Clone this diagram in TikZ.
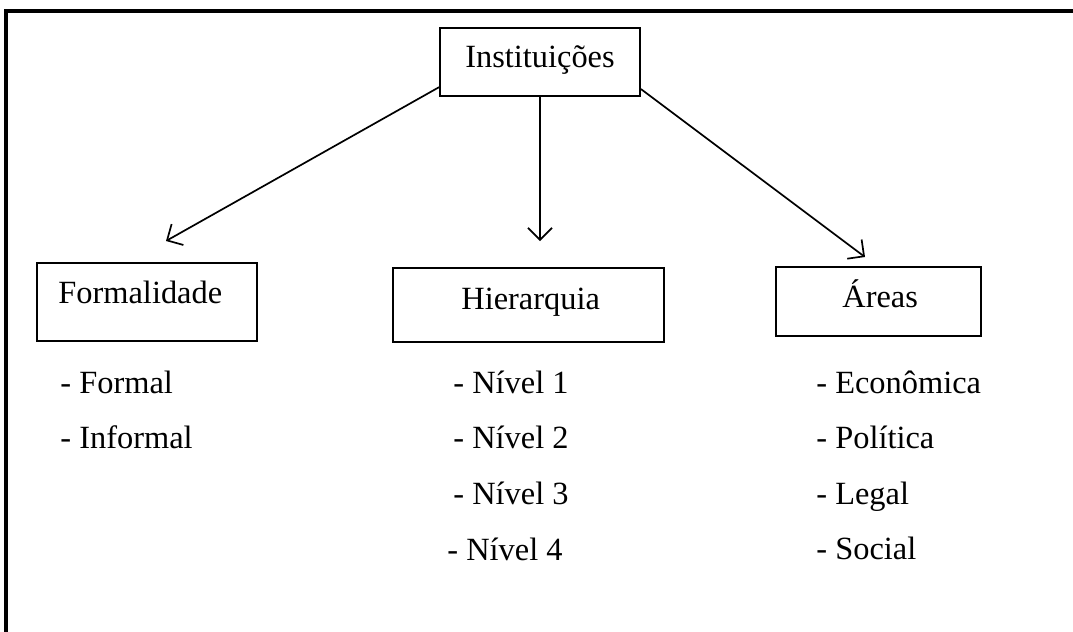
\documentclass[tikz,border=0pt]{standalone}
\usepackage{fontspec}
\setmainfont{Liberation Serif}
\usetikzlibrary{arrows.meta}
\tikzset{
    caixa/.style={draw,line width=.9pt,inner sep=0,rectangle},
    txt/.style={inner sep=0,font=\fontsize{16.2}{19}\selectfont},
    seta/.style={->,line width=.85pt},
}
\begin{document}
\begin{tikzpicture}[x=.5pt,y=-.5pt,>={Straight Barb[length=6pt,width=12pt,line width=.85pt]}]
    \useasboundingbox(0,0)rectangle(1073,632);
    \begin{scope}
        \clip(0,0)rectangle(1073,632);
        \draw[line width=2pt](5.5,10.5)rectangle(1090,660);
    \end{scope}
    \node[caixa,minimum width=100pt,minimum height=34pt](inst)at(540,62){};
    \node[caixa,minimum width=110pt,minimum height=39pt](form)at(147,302){};
    \node[caixa,minimum width=135.5pt,minimum height=37pt](hier)at(528.5,305){};
    \node[caixa,minimum width=102.5pt,minimum height=34.5pt](areas)at(878.5,301.5){};
    \node[txt,anchor=base](instT)at(540,67){Instituições};
    \node[txt,anchor=base west](formT)at(58,303){Formalidade};
    \node[txt,anchor=base west](hierT)at(461,309){Hierarquia};
    \node[txt,anchor=base west](areasT)at(842,307){Áreas};
    \coordinate(pF)at(166,241);
    \coordinate(pH)at(540,241);
    \coordinate(pA)at(865,257);
    \draw[seta](inst.194)--(pF);
    \draw[seta](inst.south)--(pH);
    \draw[seta](inst.345)--(pA);
    \node[txt,anchor=base west](f1)at(60,393){- Formal};
    \node[txt,anchor=base west](f2)at(60,448){- Informal};
    \foreach \i/\yy in {1/393,2/448,3/504}
        \node[txt,anchor=base west](n\i)at(453,\yy){- Nível \i};
    \node[txt,anchor=base west](n4)at(447,560){- Nível 4};
    \foreach \nome/\txt/\yy in {a1/Econômica/393,a2/Política/448,a3/Legal/504,a4/Social/559}
        \node[txt,anchor=base west](\nome)at(816,\yy){- \txt};
\end{tikzpicture}
\end{document}
